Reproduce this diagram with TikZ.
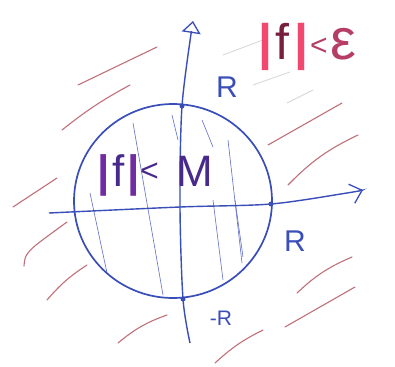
\documentclass[tikz,border=0pt]{standalone}
\usepackage{fontspec}
\setmainfont{Liberation Sans}
\usetikzlibrary{arrows.meta}
\definecolor{ink}{RGB}{58,78,185}
\definecolor{inkl}{RGB}{95,110,200}
\definecolor{redh}{RGB}{192,112,122}
\definecolor{faintg}{RGB}{218,218,222}
\definecolor{pbar}{RGB}{112,45,162}
\definecolor{ptxt}{RGB}{72,42,140}
\definecolor{kbar}{RGB}{242,72,112}
\definecolor{kf}{RGB}{120,30,62}
\definecolor{ktxt}{RGB}{182,62,102}
\begin{document}
\begin{tikzpicture}[x=1pt,y=-1pt,
  axis/.style={draw=ink, line width=1.4pt},
  rim/.style={draw=ink, line width=1.7pt},
  hatchin/.style={draw=inkl, line width=0.6pt},
  hatchout/.style={draw=redh, line width=1.1pt, line cap=round},
  faint/.style={draw=faintg, line width=0.9pt, line cap=round},
  dotp/.style={circle, fill=ink, inner sep=0pt, minimum size=5pt},
  lab/.style={text=ink, inner sep=0pt, font=\fontsize{30}{30}\selectfont},
  labs/.style={text=ink, inner sep=0pt, font=\fontsize{21}{21}\selectfont}]
\useasboundingbox (0,0) rectangle (395,366);
\fill[white] (0,0) rectangle (395,366);

% faint show-through lines
\draw[faint] (223,55) -- (263,40);
\draw[faint] (253,85) -- (290,72);
\draw[faint] (287,103) -- (313,90);

% outside red hatching
\draw[hatchout] (78,85) -- (157,47);
\draw[hatchout] (62,130) to[bend left=5] (130,85);
\draw[hatchout] (13,207) -- (57,178);
\draw[hatchout] plot[smooth] coordinates {(67,222) (36,245) (26,256) (24,266)};
\draw[hatchout] (47,300) to[bend left=8] (87,265);
\draw[hatchout] (118,343) to[bend left=10] (167,315);
\draw[hatchout] (268,145) -- (342,103);
\draw[hatchout] (288,185) to[bend left=10] (358,135);
\draw[hatchout] (297,293) to[bend left=10] (352,257);
\draw[hatchout] (285,327) -- (355,287);
\draw[hatchout] (215,363) to[bend left=8] (263,330);

% inside blue hatching
\draw[hatchin] (90,193) -- (107,273);
\draw[hatchin] (133,123) -- (163,295);
\draw[hatchin] (172,115) -- (178,140);
\draw[hatchin] (202,120) -- (213,147);
\draw[hatchin] (213,200) -- (223,280);
\draw[hatchin] (228,140) -- (242,263);
\draw[hatchin] (235,200) -- (243,257);

% circle
\coordinate (c) at (173,201);
\draw[rim] (c) ellipse [x radius=99, y radius=97];

% axes
\coordinate (vbot) at (190,343);
\coordinate (vtop) at (193,21);
\coordinate (hl) at (49,213);
\coordinate (hr) at (363,190);
\coordinate (ptop) at (182,106);
\coordinate (pbot) at (183,299);
\coordinate (pright) at (271,204);
\draw[axis, -{Triangle[open, length=12pt, width=19pt, line width=1.3pt]}]
  plot[smooth] coordinates {(vbot) (pbot) (180,207) (ptop) (vtop)};
\draw[axis, -{Straight Barb[length=11pt, width=20pt, line width=1.3pt]}]
  plot[smooth] coordinates {(hl) (180,207) (pright) (347,193) (hr)};

\node[dotp] (dtop) at (ptop) {};
\node[dotp] (dbot) at (pbot) {};
\node[dotp] (dright) at (pright) {};

% labels
\node[lab] (rtop) at (227,87) {R};
\node[lab] (rright) at (295,241) {R};
\node[labs] (rbot) at (221,318) {-R};

\node[anchor=base west, inner sep=0pt, font=\fontsize{44}{44}\selectfont] (fm) at (97,186)
  {\textcolor{pbar}{\bfseries|}\hspace{3pt}\textcolor{ptxt}{f}\hspace{3pt}\textcolor{pbar}{\bfseries|}\raisebox{5pt}{\textcolor{ptxt}{\fontsize{32}{32}\selectfont<}}\hspace{18pt}\textcolor{ptxt}{M}};
\node[anchor=base west, inner sep=0pt, font=\fontsize{50}{50}\selectfont] (fe) at (258,60)
  {\textcolor{kbar}{\bfseries|}\hspace{3pt}\textcolor{kf}{f}\hspace{5pt}\textcolor{kbar}{\bfseries|}\hspace{2pt}\raisebox{4pt}{\textcolor{ktxt}{\fontsize{30}{30}\selectfont<}}\hspace{3pt}\textcolor{ktxt}{\fontsize{58}{58}\selectfont ε}};
\end{tikzpicture}
\end{document}
